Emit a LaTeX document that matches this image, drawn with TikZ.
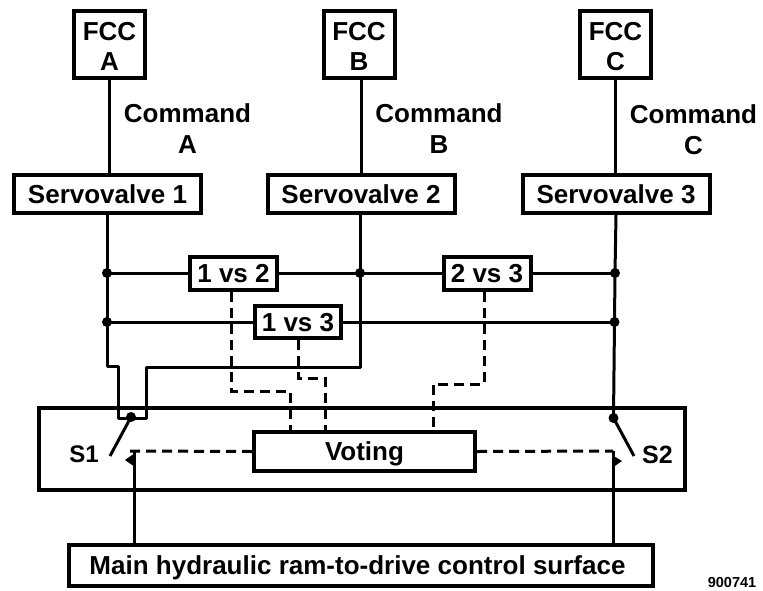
\documentclass[tikz,border=0pt]{standalone}
\usepackage{fontspec}
\setmainfont{Liberation Sans}
\usetikzlibrary{calc,shapes.geometric}
\newcommand{\fcctxt}[1]{\rule{0pt}{22pt}FCC\\#1}
\tikzset{
 x=1pt,y=-1pt,
 bx/.style={draw,line width=4pt,fill=white,inner sep=0pt,font=\fontsize{26}{30}\selectfont\bfseries,align=center},
 sgl/.style={bx,text height=18.5pt,text depth=0pt},
 fcc/.style={bx,minimum width=71pt,minimum height=67pt},
 servo/.style={sgl,minimum width=187pt,minimum height=38pt},
 cmp/.style={sgl,minimum width=87pt,minimum height=33pt},
 lab/.style={inner sep=0pt,font=\fontsize{26}{31}\selectfont\bfseries,align=center},
 wire/.style={line width=3pt,line join=round},
 dsh/.style={line width=3pt,dash pattern=on 10pt off 6pt},
 jn/.style={circle,fill=black,inner sep=0pt,minimum size=10pt},
}
\begin{document}
\begin{tikzpicture}
\useasboundingbox (0,0) rectangle (763,590);
% enclosing box
\node[bx,minimum width=646pt,minimum height=82pt] (frame) at (362,449) {};
% coordinates
\coordinate (ja1) at (107,273);
\coordinate (jb1) at (360,273);
\coordinate (jc1) at (615,273);
\coordinate (ja2) at (107,322);
\coordinate (jc2) at (614.5,322);
\coordinate (la) at (107,366);
\coordinate (lb) at (118,366);
\coordinate (lc) at (118,418);
\coordinate (ld) at (146,418);
\coordinate (le) at (146,367);
\coordinate (lf) at (360,367);
\coordinate (s1top) at (131,417);
\coordinate (s1end) at (110,456);
\coordinate (s2top) at (613.5,418);
\coordinate (s2end) at (634,456);
\coordinate (s1low) at (134,451);
\coordinate (s2low) at (613,451);
% wires (drawn below the boxes)
\draw[wire] (ja1) -- (jc1);
\draw[wire] (ja2) -- (jc2);
\node[fcc] (fa) at (109.5,44.5) {\fcctxt{A}};
\node[fcc] (fb) at (359,44.5) {\fcctxt{B}};
\node[fcc] (fc) at (615.5,44.5) {\fcctxt{C}};
\node[servo] (sa) at (107.5,194) {Servovalve 1};
\node[servo] (sb) at (361,194) {Servovalve 2};
\node[servo] (sc) at (616,194) {Servovalve 3};
\node[cmp] (c12) at (233.5,273.5) {1 vs 2};
\node[cmp] (c23) at (487,273.5) {2 vs 3};
\node[cmp,minimum width=86pt,minimum height=32pt] (c13) at (298,322) {1 vs 3};
\node[sgl,minimum width=221pt,minimum height=39pt] (vote) at (364.5,451.5) {Voting};
\node[sgl,minimum width=584pt,minimum height=41pt] (ram) at (361,565.5) {\hspace*{-7pt}Main hydraulic ram-to-drive control surface};
% solid connectors
\draw[wire] (fa.south) -- (sa.north -| fa);
\draw[wire] (fb.south -| sb) -- (sb.north);
\draw[wire] (fc.south) -- (sc.north -| fc);
\draw[wire] (sa.south -| ja1) -- (la) -- (lb) -- (lc) -- (ld) -- (le) -- (lf) -- (sb.south -| lf);
\draw[wire] (sc.south) -- (jc1) -- (jc2) -- (s2top);
\draw[wire] (s1top) -- (s1end);
\draw[wire] (s2top) -- (s2end);
\draw[wire] (ram.north -| s1low) -- (s1low);
\draw[wire] (ram.north -| s2low) -- (s2low);
% dashed connectors
\draw[dsh] (c12.south -| 231,0) -- (231,391) -- (290,391) -- (vote.north -| 290,0);
\draw[dsh] (c13.south -| 298,0) -- (298,378) -- (325,378) -- (vote.north -| 325,0);
\draw[dsh] (c23.south -| 484,0) -- (484,384) -- (433,384) -- (vote.north -| 433,0);
\draw[dsh] (vote.west) -- (128,451);
\draw[dsh] (vote.east) -- (s2low);
% junction dots and contacts
\foreach \p in {ja1,jb1,jc1,ja2,jc2} \node[jn] at (\p) {};
\node[jn] (d1) at (s1top) {};
\node[jn] (d2) at (s2top) {};
\fill (135,453) -- (125,460) -- (135,467) -- cycle;
\fill (612,455) -- (622,461) -- (612,468) -- cycle;
% labels
\node[lab] (ca) at (187.5,129) {Command\\A};
\node[lab] (cb) at (439,129) {Command\\B};
\node[lab] (cc) at (693.5,130) {Command\\C};
\node[lab,font=\fontsize{24}{28}\selectfont\bfseries] (s1) at (84,454) {S1};
\node[lab,font=\fontsize{25}{28}\selectfont\bfseries] (s2) at (657.5,454.5) {S2};
\node[inner sep=0pt,font=\fontsize{14.5}{16}\selectfont\bfseries] (num) at (732,582) {900741};
\end{tikzpicture}
\end{document}
